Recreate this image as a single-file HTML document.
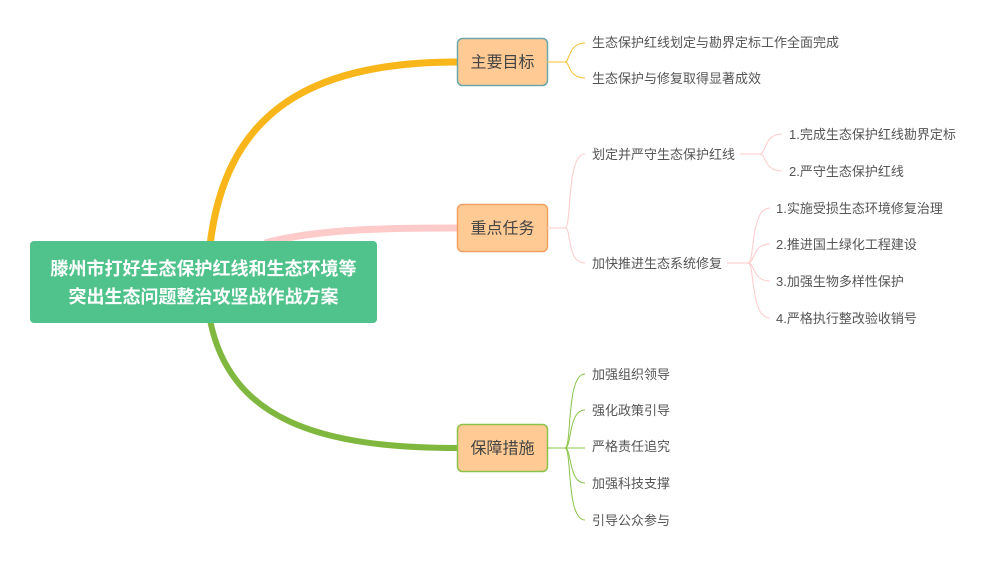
<!DOCTYPE html>
<html><head><meta charset="utf-8"><style>
html,body{margin:0;padding:0;background:#fff;width:995px;height:565px;overflow:hidden}
svg{display:block}
text{font-family:"Liberation Sans","Noto Sans CJK SC",sans-serif}
.l{font-size:13px;fill:#555}
.n{font-size:16px;fill:#444}
</style></head><body>
<svg width="995" height="565" viewBox="0 0 995 565" xmlns="http://www.w3.org/2000/svg">
<!-- main branches -->
<path d="M210 245 C225 120 300 62 457 62" stroke="#F8B61A" stroke-width="7" fill="none"/>
<path d="M265 243 C320 228 400 228 457 228" stroke="#FFCACA" stroke-width="7" fill="none"/>
<path d="M210 320 C230 420 320 448 457 448" stroke="#80B83F" stroke-width="6" fill="none"/>
<!-- root -->
<rect x="30" y="241" width="347" height="82" rx="4" fill="#50C28B"/>
<text x="203.5" y="275" text-anchor="middle" font-size="18" font-weight="bold" fill="#fff">滕州市打好生态保护红线和生态环境等</text>
<text x="203.5" y="303" text-anchor="middle" font-size="18" font-weight="bold" fill="#fff">突出生态问题整治攻坚战作战方案</text>
<!-- nodes -->
<rect x="457.5" y="38.5" width="90" height="47" rx="5" fill="#FFCA94" stroke="#6AA7AC" stroke-width="1.5"/>
<text x="502.5" y="67.5" text-anchor="middle" class="n">主要目标</text>
<rect x="457.5" y="204.5" width="90" height="47" rx="5" fill="#FFCA94" stroke="#F0A060" stroke-width="1.5"/>
<text x="502.5" y="233.5" text-anchor="middle" class="n">重点任务</text>
<rect x="457.5" y="424.5" width="90" height="47" rx="5" fill="#FFCA94" stroke="#8BC34A" stroke-width="1.5"/>
<text x="502.5" y="453.5" text-anchor="middle" class="n">保障措施</text>
<!-- goal connectors -->
<g fill="none" stroke="#F8C030" stroke-width="1">
<path d="M547 62 H565"/>
<path d="M565 62 C570 62 568 43 585 43"/>
<path d="M565 62 C570 62 568 78 585 78"/>
</g>
<text x="592" y="47" class="l">生态保护红线划定与勘界定标工作全面完成</text>
<text x="592" y="83" class="l">生态保护与修复取得显著成效</text>
<!-- key tasks connectors -->
<g fill="none" stroke="#FFCACA" stroke-width="1">
<path d="M547 228 H565"/>
<path d="M565 228 C572 228 566 154 585 154"/>
<path d="M565 228 C572 228 566 263 585 263"/>
<path d="M740 154 H760"/>
<path d="M760 154 C766 154 764 134 782 134"/>
<path d="M760 154 C766 154 764 171 782 171"/>
<path d="M727 263 H748"/>
<path d="M748 263 C755 263 750 208 770 208"/>
<path d="M748 263 C755 263 752 244 770 244"/>
<path d="M748 263 C755 263 752 281 770 281"/>
<path d="M748 263 C755 263 750 318 770 318"/>
</g>
<text x="592" y="159" class="l">划定并严守生态保护红线</text>
<text x="592" y="268" class="l">加快推进生态系统修复</text>
<text x="789" y="139" class="l">1.完成生态保护红线勘界定标</text>
<text x="789" y="176" class="l">2.严守生态保护红线</text>
<text x="776" y="213" class="l">1.实施受损生态环境修复治理</text>
<text x="776" y="249" class="l">2.推进国土绿化工程建设</text>
<text x="776" y="286" class="l">3.加强生物多样性保护</text>
<text x="776" y="323" class="l">4.严格执行整改验收销号</text>
<!-- measures -->
<g fill="none" stroke="#8BC34A" stroke-width="1">
<path d="M547 448 H585"/>
<path d="M565 448 C572 448 566 374 585 374"/>
<path d="M565 448 C572 448 568 410 585 410"/>
<path d="M565 448 C572 448 568 483 585 483"/>
<path d="M565 448 C572 448 566 520 585 520"/>
</g>
<text x="592" y="379" class="l">加强组织领导</text>
<text x="592" y="415" class="l">强化政策引导</text>
<text x="592" y="451" class="l">严格责任追究</text>
<text x="592" y="488" class="l">加强科技支撑</text>
<text x="592" y="525" class="l">引导公众参与</text>
</svg>
</body></html>
